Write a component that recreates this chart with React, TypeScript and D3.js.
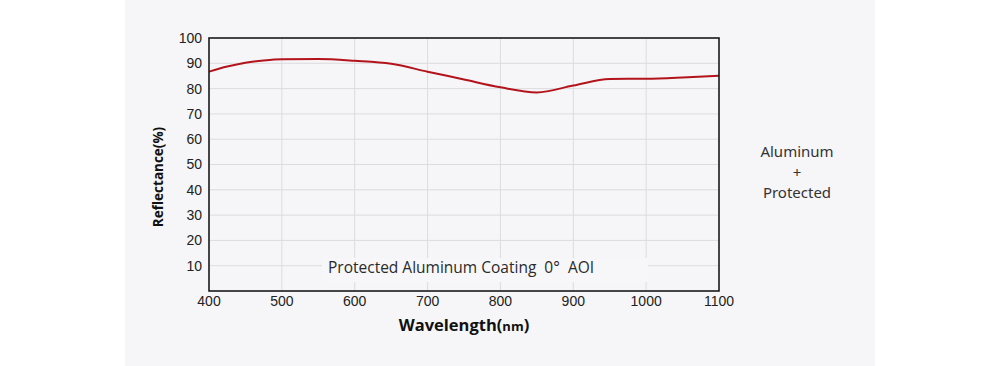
import React from "react";
import * as d3 from "d3";

// wavelength (nm) and reflectance (%)
const wavelengths = [400, 425, 450, 475, 500, 550, 600, 650, 700, 750, 800, 850, 900, 950, 1000, 1050, 1100];
const reflectance = [86.7, 88.7, 90.2, 91.1, 91.6, 91.7, 91.0, 89.8, 86.7, 83.6, 80.5, 78.5, 81.2, 83.8, 83.9, 84.4, 85.1];

const xTicks = [400, 500, 600, 700, 800, 900, 1000, 1100];
const yTicks = [10, 20, 30, 40, 50, 60, 70, 80, 90, 100];
const noteLines = ["Aluminum", "+", "Protected"];

const W = 1000;
const H = 366;
const plot = { left: 209, right: 719, top: 38, bottom: 291 };

export default function App() {
  const x = d3.scaleLinear().domain([400, 1100]).range([plot.left, plot.right]);
  const y = d3.scaleLinear().domain([0, 100]).range([plot.bottom, plot.top]);

  const points: [number, number][] = wavelengths.map((w, i) => [w, reflectance[i]]);
  const line = d3
    .line<[number, number]>()
    .x((d) => x(d[0]))
    .y((d) => y(d[1]))
    .curve(d3.curveMonotoneX);

  const tickFont = "'Liberation Sans', Arial, sans-serif";

  return (
    <svg
      width={W}
      height={H}
      style={{ position: "absolute", left: 0, top: 0 }}
    >
      <rect x={0} y={0} width={W} height={H} fill="#ffffff" />
      {/* grey panel behind the chart */}
      <rect x={125} y={0} width={750} height={H} fill="#f6f6f8" />

      {/* grid */}
      <g stroke="#dcdcdf" strokeWidth={1}>
        {xTicks.slice(1, -1).map((t) => (
          <line key={"gx" + t} x1={x(t)} x2={x(t)} y1={plot.top} y2={plot.bottom} />
        ))}
        {yTicks.slice(0, -1).map((t) => (
          <line key={"gy" + t} x1={plot.left} x2={plot.right} y1={y(t)} y2={y(t)} />
        ))}
      </g>

      {/* label box hides grid behind the caption */}
      <rect x={322} y={258} width={326} height={24} fill="#f7f7f9" />
      <text
        x={328}
        y={273}
        fontFamily="'Open Sans', 'Noto Sans', sans-serif"
        fontSize={15.5}
        fill="#2a2a2a"
        style={{ whiteSpace: "pre" }}
      >
        {"Protected Aluminum Coating  0°  AOI"}
      </text>

      {/* curve */}
      <path d={line(points) ?? ""} fill="none" stroke="#b3141c" strokeWidth={2} />

      {/* frame */}
      <rect
        x={plot.left}
        y={plot.top}
        width={plot.right - plot.left}
        height={plot.bottom - plot.top}
        fill="none"
        stroke="#1a1a1a"
        strokeWidth={1.6}
      />

      {/* y tick labels */}
      {yTicks.map((t) => (
        <text
          key={"yl" + t}
          x={202}
          y={y(t)}
          dy="0.35em"
          textAnchor="end"
          fontFamily={tickFont}
          fontSize={14}
          fill="#222"
        >
          {t}
        </text>
      ))}

      {/* x tick labels */}
      {xTicks.map((t) => (
        <text
          key={"xl" + t}
          x={x(t)}
          y={306}
          textAnchor="middle"
          fontFamily={tickFont}
          fontSize={14}
          fill="#222"
        >
          {t}
        </text>
      ))}

      {/* axis titles */}
      <text
        transform={`translate(163,177) rotate(-90)`}
        textAnchor="middle"
        fontFamily="'Open Sans', 'Noto Sans', sans-serif"
        fontWeight="bold"
        fontSize={13.5}
        fill="#111"
      >
        Reflectance(%)
      </text>
      <text
        x={464}
        y={331}
        textAnchor="middle"
        fontFamily="'Open Sans', 'Noto Sans', sans-serif"
        fontWeight="bold"
        fontSize={16.5}
        fill="#111"
      >
        Wavelength(<tspan fontSize={13}>nm</tspan>)
      </text>

      {/* side note */}
      <g
        fontFamily="'Noto Sans', 'Open Sans', sans-serif"
        fontSize={15}
        fill="#333"
        textAnchor="middle"
      >
        {noteLines.map((s, i) => (
          <text key={s} x={797} y={157 + i * 20.5}>
            {s}
          </text>
        ))}
      </g>
    </svg>
  );
}
